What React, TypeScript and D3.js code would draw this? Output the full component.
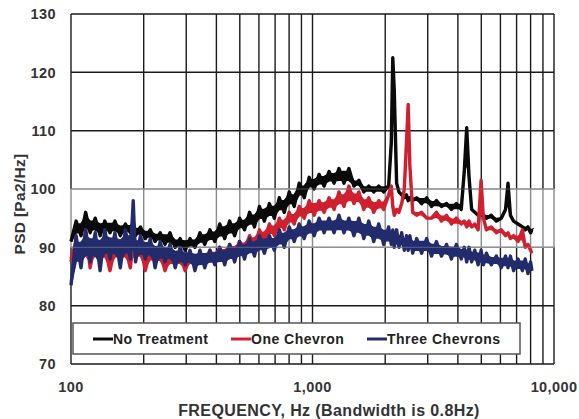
import * as d3 from "d3";

// frequency grid (Hz), shared by the three series
const FREQS = [
  100, 105, 110, 115, 120, 126, 132, 138, 145, 152,
  160, 168, 176, 181, 185, 194, 203, 213, 223, 234,
  245, 257, 270, 283, 297, 311, 326, 342, 358, 376,
  394, 413, 433, 454, 476, 499, 523, 549, 575, 603,
  632, 663, 695, 729, 764, 801, 840, 881, 924, 969,
  1016, 1065, 1117, 1171, 1228, 1287, 1350, 1415, 1484, 1556,
  1631, 1710, 1793, 1880, 1971, 2067, 2120, 2150, 2180, 2230,
  2280, 2340, 2400, 2450, 2490, 2530, 2600, 2700, 2830, 2970,
  3110, 3260, 3420, 3590, 3760, 3940, 4130, 4250, 4350, 4450,
  4560, 4700, 4850, 4990, 5100, 5250, 5500, 5770, 6050, 6300,
  6450, 6600, 6800, 7100, 7400, 7600, 7800, 8000, 8100,
];

// PSD values, dB (Pa2/Hz)
const NO_TREATMENT = [
  91, 94.5, 92, 96, 92.5, 95, 92, 94.5, 92.5, 94.5,
  92, 94, 92.5, 94.5, 92, 93.5, 91.5, 93, 91, 92.5,
  90.5, 92.5, 90, 91.5, 89.5, 91.5, 90, 92.5, 90.5, 93,
  91, 94, 91.5, 94.5, 92, 95, 93, 96, 93.5, 97,
  94.5, 97.5, 95, 98.5, 96, 99.5, 97, 101, 98.5, 102,
  100, 102.5, 100.5, 103, 101, 103.5, 101, 103.5, 100.5, 101.5,
  99.5, 100.5, 99.5, 100.5, 99.5, 100.5, 108, 122.5, 117, 101,
  99.5, 99, 98.5, 99, 98, 98.5, 98, 98.5, 97.5, 98.5,
  97, 98, 97, 97.5, 96.5, 97.5, 96.5, 103, 110.5, 102,
  96.5, 96, 95.5, 95.5, 95.5, 95, 95.5, 94.5, 95, 96.5,
  101, 95.5, 94.5, 94, 93.5, 93, 93.5, 92.5, 93,
];

const ONE_CHEVRON = [
  88, 91, 87.5, 93, 86.5, 91, 88, 90, 86, 90,
  88, 90, 86.5, 91, 88, 90.5, 86, 89.5, 87.5, 89,
  86, 88.5, 87, 88.5, 86, 88.5, 87, 89, 87.5, 89.5,
  87.5, 90, 88, 90.5, 88.5, 91, 89.5, 92, 90, 93,
  91, 94, 92, 95, 93, 96, 94, 97, 95, 98,
  95.5, 98, 96, 98.5, 96.5, 99.5, 97, 100.5, 97.5, 99.5,
  96.5, 98.5, 96, 98, 96.5, 99, 100.5, 97, 95.5, 96.5,
  96, 97.5, 100, 108, 114.5, 104, 96, 95.5, 96, 95,
  95, 96, 94.5, 95.5, 94, 95, 94, 94.5, 93.5, 94.5,
  93.5, 94, 93, 101.5, 95, 93, 93.5, 92.5, 93, 92,
  92.5, 91.5, 92, 91, 93, 90, 90.5, 89.5, 89,
];

const THREE_CHEVRONS = [
  83.5, 92, 86.5, 93, 87.5, 92.5, 86, 93, 88, 92.5,
  86.5, 93, 88, 98, 87.5, 92, 88, 91.5, 86.5, 91,
  87.5, 90.5, 86.5, 90, 87, 89.5, 86, 89.5, 86.5, 89.5,
  87, 90, 87, 90.5, 87.5, 91, 88, 91.5, 88.5, 92,
  89, 92, 89.5, 93, 90, 93.5, 91, 94, 91.5, 94.5,
  92, 95, 92.5, 95, 92.5, 95.5, 92.5, 95, 92, 95,
  91.5, 94.5, 91, 94, 90.5, 93.5, 90.5, 93, 90, 93,
  90, 92.5, 89.5, 92, 89.5, 92, 89, 91.5, 89, 91.5,
  88.5, 91, 88.5, 90.5, 88, 90.5, 88, 90, 87.5, 90,
  87.5, 89.5, 87, 89.5, 87, 89, 87, 88.5, 86.5, 88.5,
  86.5, 88.5, 86, 88, 86, 88, 85.5, 87.5, 86,
];

const SERIES_NAMES = ["No Treatment", "One Chevron", "Three Chevrons"];
const SERIES_COLORS = ["#0a0a0a", "#d01f2e", "#222c6c"];
const X_TICKS = [100, 1000, 10000];
const Y_TICKS = [70, 80, 90, 100, 110, 120, 130];
const BAND = [90, 100];

const W = 579;
const H = 419;
const M = { left: 71, right: 25, top: 14, bottom: 55 };
const FONT = "'Liberation Sans', Arial, sans-serif";

// inner core of the noisy trace, so the zigzag reads as a band with ragged edges
function core(vals: number[]) {
  return vals.map((v, i) => {
    const a = vals[Math.max(0, i - 1)];
    const b = vals[Math.min(vals.length - 1, i + 1)];
    const hi = Math.max(v, Math.min(a, b));
    const lo = Math.min(v, Math.max(a, b));
    const inset = (hi - lo) * 0.22;
    return { f: FREQS[i], hi: hi - inset, lo: lo + inset };
  });
}

export default function App() {
  const x = d3.scaleLog().domain([100, 10000]).range([M.left, W - M.right]);
  const y = d3.scaleLinear().domain([70, 130]).range([H - M.bottom, M.top]);

  const line = d3
    .line<[number, number]>()
    .x((d) => x(d[0]))
    .y((d) => y(d[1]));

  const area = d3
    .area<{ f: number; hi: number; lo: number }>()
    .x((d) => x(d.f))
    .y0((d) => y(d.lo))
    .y1((d) => y(d.hi));

  const seriesValues = [NO_TREATMENT, ONE_CHEVRON, THREE_CHEVRONS];
  const gridFreqs = x.ticks();
  const fmt = d3.format(",");

  const yTop = y(130);
  const yBot = y(70);
  const yHi = y(BAND[1]);
  const yLo = y(BAND[0]);

  const tickStyle = { fontSize: 14.5, fontWeight: "bold" as const, fill: "#333", letterSpacing: 0.4 };

  return (
    <svg
      width={W}
      height={H}
      style={{ position: "absolute", left: 0, top: 0, background: "#fff" }}
      fontFamily={FONT}
    >
      {/* vertical grid: black, grey inside the 90-100 band */}
      {gridFreqs.map((f, i) => (
        <g key={"v" + i}>
          <line x1={x(f)} x2={x(f)} y1={yTop} y2={yHi} stroke="#1a1a1a" strokeWidth={1.4} />
          <line x1={x(f)} x2={x(f)} y1={yHi} y2={yLo} stroke="#8a8a8a" strokeWidth={1.4} />
          <line x1={x(f)} x2={x(f)} y1={yLo} y2={yBot} stroke="#1a1a1a" strokeWidth={1.4} />
        </g>
      ))}
      {Y_TICKS.map((t) => (
        <line
          key={"h" + t}
          x1={M.left}
          x2={W - M.right}
          y1={y(t)}
          y2={y(t)}
          stroke={BAND.includes(t) ? "#8a8a8a" : "#1a1a1a"}
          strokeWidth={1.5}
        />
      ))}

      {/* series */}
      {seriesValues.map((vals, s) => (
        <g key={"s" + s}>
          <path d={area(core(vals)) || ""} fill={SERIES_COLORS[s]} stroke={SERIES_COLORS[s]} strokeWidth={2} />
          <path
            d={line(FREQS.map((f, i) => [f, vals[i]] as [number, number])) || ""}
            fill="none"
            stroke={SERIES_COLORS[s]}
            strokeWidth={3.4}
            strokeLinejoin="round"
          />
        </g>
      ))}

      {/* band edges faintly over the data */}
      {BAND.map((t) => (
        <line
          key={"b" + t}
          x1={M.left}
          x2={W - M.right}
          y1={y(t)}
          y2={y(t)}
          stroke="#9a9a9a"
          strokeOpacity={0.4}
          strokeWidth={1.2}
        />
      ))}

      {/* y tick labels */}
      {Y_TICKS.map((t) => (
        <text key={"yl" + t} x={56} y={y(t)} dy="0.36em" textAnchor="end" {...tickStyle}>
          {t}
        </text>
      ))}
      {/* x tick labels */}
      {X_TICKS.map((t) => (
        <text key={"xl" + t} x={x(t)} y={387} dy="0.36em" textAnchor="middle" {...tickStyle}>
          {fmt(t)}
        </text>
      ))}

      <text
        x={329}
        y={410}
        dy="0.36em"
        textAnchor="middle"
        fontSize={16}
        fontWeight="bold"
        fill="#333"
        letterSpacing={0.4}
      >
        FREQUENCY, Hz (Bandwidth is 0.8Hz)
      </text>
      <text
        transform={`translate(19,204) rotate(-90)`}
        dy="0.36em"
        textAnchor="middle"
        fontSize={15.5}
        fontWeight="bold"
        fill="#333"
        letterSpacing={0.3}
      >
        PSD [Pa2/Hz]
      </text>

      {/* legend */}
      <rect x={73} y={323} width={447} height={31} fill="#fff" stroke="#555" strokeWidth={1.5} />
      {SERIES_NAMES.map((name, i) => {
        const lx = [93, 231, 367][i];
        return (
          <g key={"lg" + i}>
            <line x1={lx} x2={lx + 20} y1={339} y2={339} stroke={SERIES_COLORS[i]} strokeWidth={3} />
            <text
              x={lx + 20}
              y={339}
              dy="0.36em"
              fontSize={14}
              fontWeight="bold"
              fill="#222"
              letterSpacing={0.5}
            >
              {name}
            </text>
          </g>
        );
      })}
    </svg>
  );
}
